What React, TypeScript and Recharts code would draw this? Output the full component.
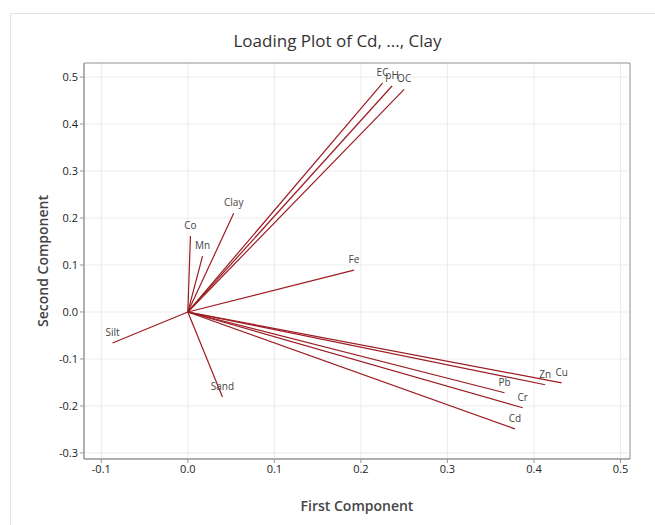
import { ScatterChart, Scatter, XAxis, YAxis, CartesianGrid, ReferenceArea, Label } from 'recharts';

// loadings
const variables = ['Cd', 'Cr', 'Pb', 'Zn', 'Cu', 'Fe', 'Mn', 'Co', 'EC', 'pH', 'OC', 'Sand', 'Silt', 'Clay'];
const firstComponent = [0.378, 0.387, 0.366, 0.413, 0.432, 0.192, 0.017, 0.003, 0.225, 0.236, 0.25, 0.04, -0.087, 0.053];
const secondComponent = [-0.249, -0.204, -0.172, -0.155, -0.151, 0.089, 0.119, 0.162, 0.487, 0.481, 0.474, -0.181, -0.066, 0.21];

const xTicks = [-0.1, 0, 0.1, 0.2, 0.3, 0.4, 0.5];
const yTicks = [-0.3, -0.2, -0.1, 0, 0.1, 0.2, 0.3, 0.4, 0.5];
const xDomain = [-0.12, 0.511];
const yDomain = [-0.313, 0.53];

const FONT = '"Open Sans", "Noto Sans", sans-serif';
const LINE = '#9b1c22';

const vectors = variables.map((name, i) => ({
  name,
  data: [
    { x: 0, y: 0 },
    { x: firstComponent[i], y: secondComponent[i], name },
  ],
}));

const Tip = (props: any) => {
  const { cx, cy, payload } = props;
  if (!payload || !payload.name) return <g />;
  return (
    <text x={cx} y={cy - 7} textAnchor="middle" fontSize={10} fill="#444" fontFamily={FONT}>
      {payload.name}
    </text>
  );
};

export default function App() {
  return (
    <div style={{ position: 'absolute', left: 0, top: 0, width: 655, height: 525, background: '#fff' }}>
      <div
        style={{
          position: 'absolute',
          left: 10,
          top: 13,
          width: 650,
          height: 520,
          borderLeft: '1px solid #e2e2e2',
          borderTop: '1px solid #e2e2e2',
        }}
      />
      <div
        style={{
          position: 'absolute',
          left: 0,
          top: 29,
          width: 675,
          textAlign: 'center',
          fontFamily: FONT,
          fontSize: 17,
          color: '#333',
        }}
      >
        Loading Plot of Cd, ..., Clay
      </div>
      <div style={{ position: 'absolute', left: 0, top: 0 }}>
        <ScatterChart width={655} height={525} margin={{ top: 63, right: 25, bottom: 0, left: 0 }}>
          <CartesianGrid stroke="#ececec" horizontal vertical />
          <XAxis
            dataKey="x"
            type="number"
            domain={xDomain}
            ticks={xTicks}
            allowDataOverflow
            height={66}
            tickFormatter={(v: number) => v.toFixed(1)}
            tick={{ fontSize: 11, fill: '#222', fontFamily: FONT }}
            axisLine={{ stroke: '#999' }}
            tickLine={{ stroke: '#999' }}
            tickSize={4}
          >
            <Label value="First Component" position="insideBottom" offset={14} fontSize={14} fontWeight={600} fill="#444" fontFamily={FONT} />
          </XAxis>
          <YAxis
            dataKey="y"
            type="number"
            domain={yDomain}
            ticks={yTicks}
            allowDataOverflow
            width={84}
            tickFormatter={(v: number) => v.toFixed(1)}
            tick={{ fontSize: 11, fill: '#222', fontFamily: FONT }}
            axisLine={{ stroke: '#999' }}
            tickLine={{ stroke: '#999' }}
            tickSize={4}
          >
            <Label value="Second Component" angle={-90} position="insideLeft" offset={43} fontSize={14} fontWeight={600} fill="#444" fontFamily={FONT} style={{ textAnchor: 'middle' }} />
          </YAxis>
          <ReferenceArea x1={xDomain[0]} x2={xDomain[1]} y1={yDomain[0]} y2={yDomain[1]} fill="none" stroke="#999" ifOverflow="visible" />
          {vectors.map((v) => (
            <Scatter
              key={v.name}
              name={v.name}
              data={v.data}
              line={{ stroke: LINE, strokeWidth: 1.2 }}
              shape={Tip}
              isAnimationActive={false}
            />
          ))}
        </ScatterChart>
      </div>
    </div>
  );
}
